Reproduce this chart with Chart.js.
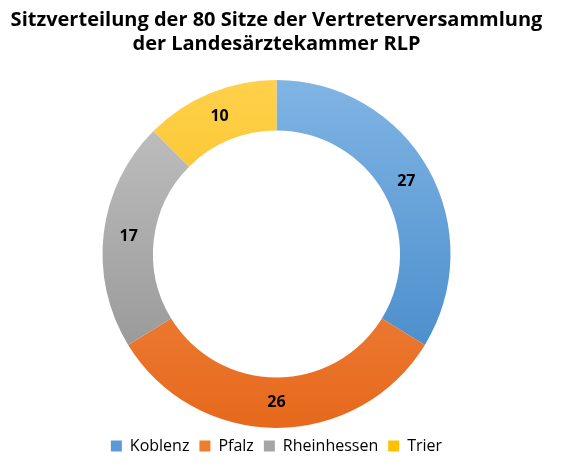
<!DOCTYPE html>
<html><head><meta charset="utf-8">
<script src="https://cdn.jsdelivr.net/npm/chart.js@4"></script>
<style>html,body{margin:0;padding:0;background:#fff}#w{width:563px;height:466px}</style>
</head><body><div id="w"><canvas id="c"></canvas></div>
<script>
const categories = ["Koblenz","Pfalz","Rheinhessen","Trier"];
const seats = [27,26,17,10];
const colorsTop = ["#80b4e4","#f6975a","#c4c4c4","#ffd04a"];
const colorsBot = ["#3d84c6","#e6691c","#8e8e8e","#f2b600"];
const solid = ["#5b9bd5","#ed7d31","#a5a5a5","#ffc000"];
const labelPlugin = {
  id:'vals',
  afterDatasetsDraw(chart){
    const ctx=chart.ctx, meta=chart.getDatasetMeta(0);
    ctx.save();ctx.font='bold 16px "Open Sans"';ctx.fillStyle='#000';ctx.textAlign='center';ctx.textBaseline='middle';
    meta.data.forEach((a,i)=>{const p=a.tooltipPosition();ctx.fillText(seats[i],p.x,p.y);});
    ctx.restore();
  }
};
new Chart(document.getElementById('c'),{
  type:'doughnut',
  data:{labels:categories,datasets:[{data:seats,borderWidth:0,
    backgroundColor(ctx){
      const ch=ctx.chart, ca=ch.chartArea; if(!ca) return solid[ctx.dataIndex];
      const g=ch.ctx.createLinearGradient(0,ca.top,0,ca.bottom);
      g.addColorStop(0,colorsTop[ctx.dataIndex]);g.addColorStop(1,colorsBot[ctx.dataIndex]);return g;
    }}]},
  options:{responsive:true,maintainAspectRatio:false,animation:false,cutout:'71%',
    layout:{padding:{top:0,bottom:2,right:10}},
    plugins:{
      title:{display:true,text:["Sitzverteilung der 80 Sitze der Vertreterversammlung","der Landesärztekammer RLP"],
        font:{family:'"Open Sans"',size:20,weight:'bold'},color:'#000',padding:{top:8,bottom:24},lineHeight:1.35},
      legend:{position:'bottom',labels:{font:{family:'"Open Sans"',size:16},color:'#404040',boxWidth:11,boxHeight:11,padding:10,
        generateLabels(){return categories.map((c,i)=>({text:c,fillStyle:solid[i],strokeStyle:solid[i],lineWidth:0,index:i}));}}},
      tooltip:{enabled:false}
    }},
  plugins:[labelPlugin]
});
</script></body></html>
